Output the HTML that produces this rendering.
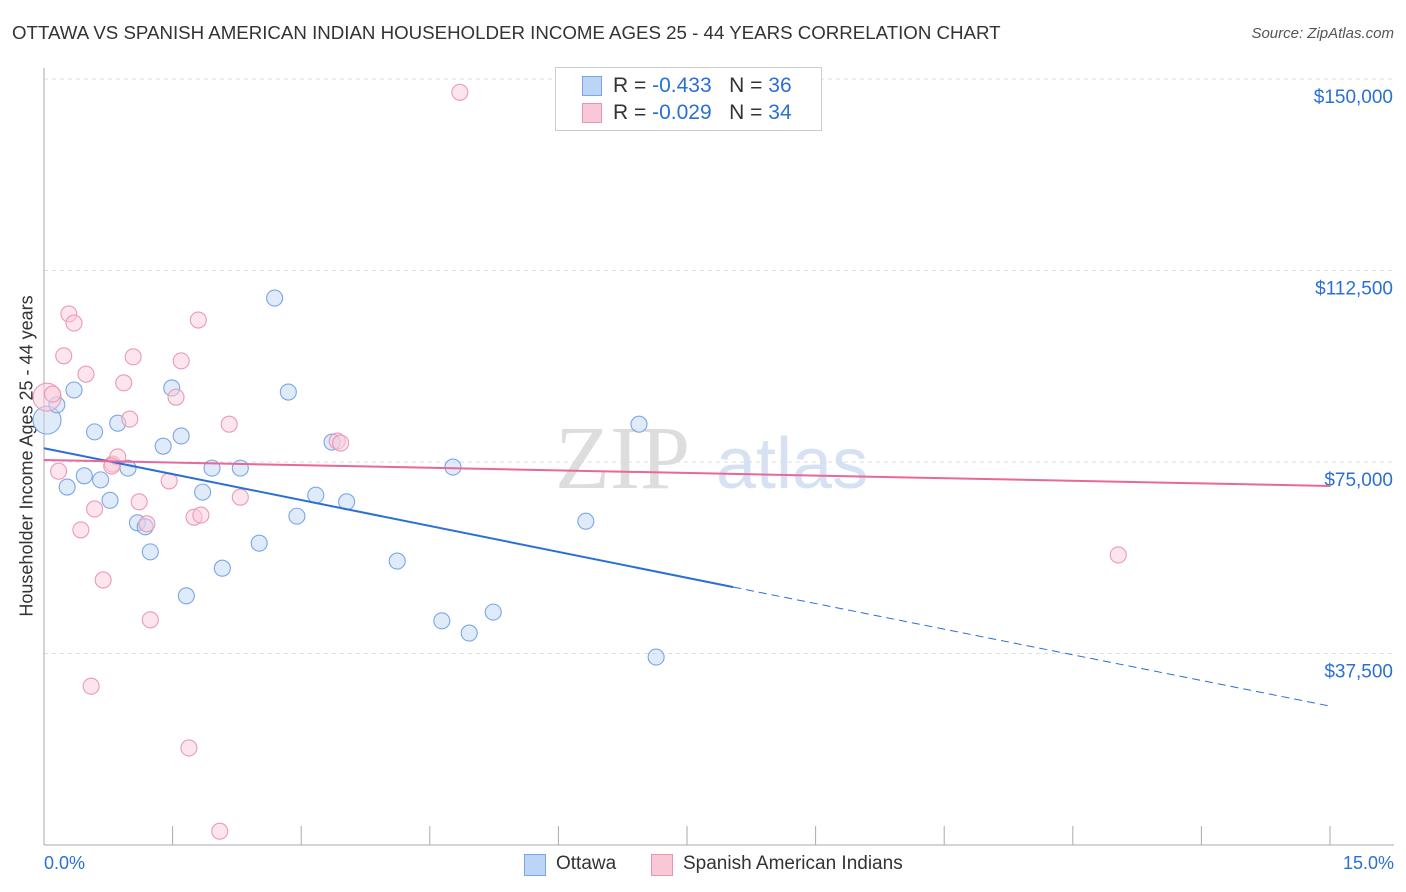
<!DOCTYPE html>
<html><head><meta charset="utf-8">
<style>
body{margin:0;background:#fff;font-family:"Liberation Sans",sans-serif;}
#wrap{position:relative;width:1406px;height:892px;overflow:hidden;}
.t{position:absolute;white-space:nowrap;}
</style></head>
<body>
<div id="wrap">
<div class="t" style="left:12px;top:22px;font-size:18.7px;color:#333;">OTTAWA VS SPANISH AMERICAN INDIAN HOUSEHOLDER INCOME AGES 25 - 44 YEARS CORRELATION CHART</div>
<div class="t" style="right:12px;top:25px;font-size:15px;color:#555;font-style:italic;">Source: ZipAtlas.com</div>
<div class="t" style="left:27px;top:456px;font-size:18px;color:#333;transform:translate(-50%,-50%) rotate(-90deg);">Householder Income Ages 25 - 44 years</div>
<svg id="plot" width="1406" height="892" style="position:absolute;left:0;top:0"></svg>
<div style="position:absolute;left:555px;top:67px;width:265px;height:62px;border:1px solid #ccc;background:#fff;font-size:21px;color:#333;">
 <div style="position:absolute;left:26px;top:8px;width:18px;height:18px;background:#bcd4f5;border:1px solid #7aa6e6;"></div>
 <div class="t" style="left:57px;top:6px;">R = <span style="color:#2b6fd6">-0.433</span>&nbsp;&nbsp;&nbsp;N = <span style="color:#2b6fd6">36</span></div>
 <div style="position:absolute;left:26px;top:35px;width:18px;height:18px;background:#f9c8d7;border:1px solid #eb94b0;"></div>
 <div class="t" style="left:57px;top:33px;">R = <span style="color:#2b6fd6">-0.029</span>&nbsp;&nbsp;&nbsp;N = <span style="color:#2b6fd6">34</span></div>
</div>
<div class="t" style="left:44px;top:853px;font-size:18px;color:#2b6fd6;">0.0%</div>
<div class="t" style="right:12px;top:853px;font-size:18px;color:#2b6fd6;">15.0%</div>
<div style="position:absolute;left:524px;top:853px;font-size:19px;color:#333;">
 <div style="position:absolute;left:0;top:1px;width:20px;height:20px;background:#bcd4f5;border:1px solid #7aa6e6;"></div>
 <div class="t" style="left:32px;top:0">Ottawa</div>
 <div style="position:absolute;left:127px;top:1px;width:20px;height:20px;background:#f9c8d7;border:1px solid #eb94b0;"></div>
 <div class="t" style="left:159px;top:0">Spanish American Indians</div>
</div>
</div>
<script>
const yTicks=[37500,75000,112500,150000];
const yTickLabels=["$37,500","$75,000","$112,500","$150,000"];
const xTicks=[0,1.5,3,4.5,6,7.5,9,10.5,12,13.5,15];
const ottawaX=[0.035,0.15,0.35,0.27,0.47,0.59,0.66,0.77,0.86,0.98,1.09,1.18,1.24,1.39,1.49,1.60,1.66,1.85,1.96,2.08,2.29,2.51,2.69,2.85,2.95,3.17,3.36,3.53,4.12,4.64,4.77,4.96,5.24,6.32,6.94,7.14];
const ottawaY=[83200,86200,89100,70100,72300,80900,71500,67500,82600,73800,63100,62300,57400,78100,89500,80100,48800,69100,73800,54200,73800,59100,107100,88700,64400,68500,78900,67200,55600,43900,74000,41500,45600,63400,82400,36800];
const spanishX=[0.035,0.1,0.17,0.23,0.29,0.35,0.43,0.49,0.55,0.59,0.69,0.80,0.86,0.93,1.0,1.04,1.11,1.2,1.24,1.46,1.54,1.6,1.69,1.75,1.8,1.83,2.05,2.16,2.29,3.42,3.46,4.85,12.53,0.79];
const spanishY=[87700,88300,73200,95800,104000,102200,61700,92200,31100,65800,51900,74600,76000,90500,83400,95600,67200,62900,44100,71300,87700,94800,19000,64200,102800,64600,2700,82400,68100,79100,78700,147400,56800,74200];
const ottawaTrend=[[0,77700],[8.04,50500],[15,27200]];
const spanishTrend=[[0,75400],[15,70300]];

const X=v=>44+v*(1286/15);
const Y=v=>845-v*(383/75000);
const svg=document.getElementById('plot');
const NS='http://www.w3.org/2000/svg';
function mk(tag,attrs){const e=document.createElementNS(NS,tag);for(const k in attrs)e.setAttribute(k,attrs[k]);svg.appendChild(e);return e;}
let w=mk('text',{x:555,y:488,'font-size':90,'font-family':'Liberation Serif',fill:'#ddd'});w.textContent='ZIP';


let w2=mk('text',{x:716,y:488,'font-size':72,'font-family':'Liberation Sans',fill:'#d6e2f3'});w2.textContent='atlas';


yTicks.forEach((t,i)=>{
 const l=mk('line',{x1:44,x2:1394,y1:Y(t),y2:Y(t),stroke:'#ddd','stroke-dasharray':'4,4'});
 
 
 const tx=mk('text',{x:1393,y:Y(t)+24,'text-anchor':'end','font-size':19,fill:'#2b6fd6','font-family':'Liberation Sans'});
 tx.textContent=yTickLabels[i];
 
 
});
const ax=mk('line',{x1:44,x2:44,y1:68,y2:845,stroke:'#aaa'});


const bx=mk('line',{x1:44,x2:1394,y1:845,y2:845,stroke:'#aaa'});


xTicks.forEach(t=>{
 const l=mk('line',{x1:X(t),x2:X(t),y1:826,y2:845,stroke:'#aaa'});
 
 
});
function dots(xs,ys,fill,stroke,name){
 xs.forEach((x,i)=>{
  const r=(i===0)?14:8;
  const c=mk('circle',{cx:X(x),cy:Y(ys[i]),r:r,fill:fill,'fill-opacity':0.5,stroke:stroke,'stroke-width':1.1});
  
  
 });
}
dots(ottawaX,ottawaY,'#c2d7f5','#7aa6e6','ottawa-point');
dots(spanishX,spanishY,'#f9ccdb','#eb9ab5','spanish-point');
const t1=mk('line',{x1:X(ottawaTrend[0][0]),y1:Y(ottawaTrend[0][1]),x2:X(ottawaTrend[1][0]),y2:Y(ottawaTrend[1][1]),stroke:'#2b6fd6','stroke-width':2});


const t2=mk('line',{x1:X(ottawaTrend[1][0]),y1:Y(ottawaTrend[1][1]),x2:X(ottawaTrend[2][0]),y2:Y(ottawaTrend[2][1]),stroke:'#2b6fd6','stroke-width':1,'stroke-dasharray':'8,5'});


const t3=mk('line',{x1:X(spanishTrend[0][0]),y1:Y(spanishTrend[0][1]),x2:X(spanishTrend[1][0]),y2:Y(spanishTrend[1][1]),stroke:'#e8689a','stroke-width':2});


</script>
</body></html>
